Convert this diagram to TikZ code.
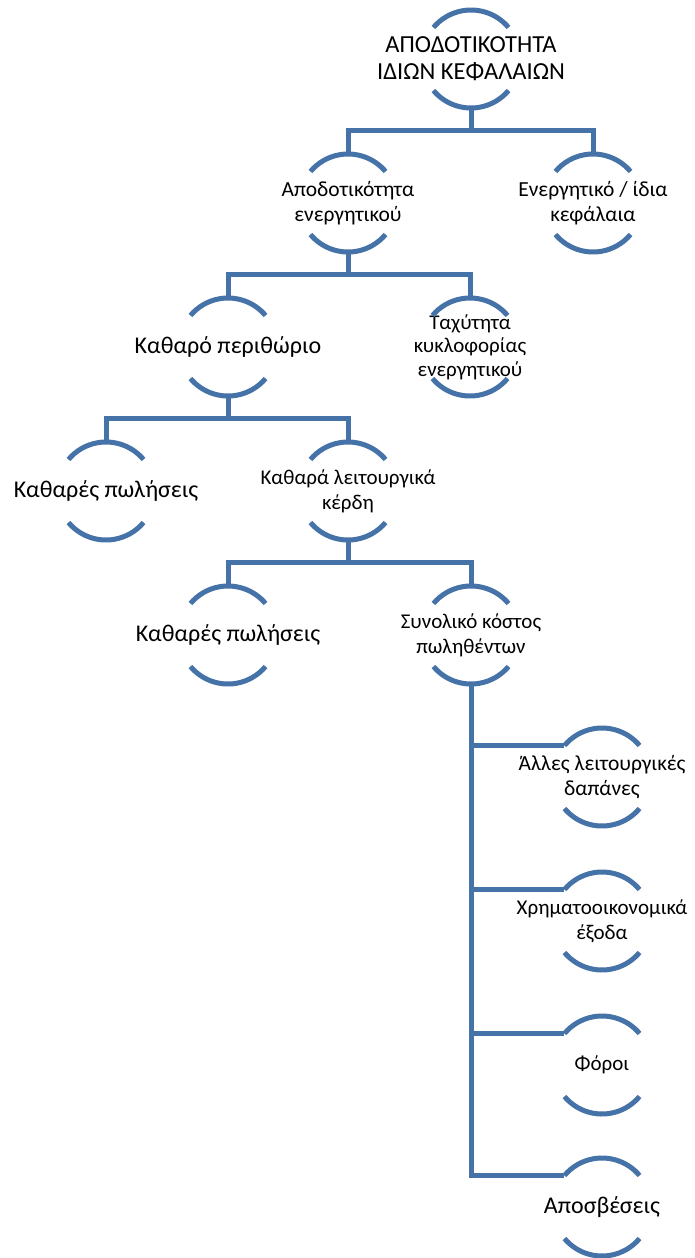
\documentclass[tikz,border=0pt]{standalone}
\usepackage{fontspec}
\setmainfont{Carlito}
\usepackage{xcolor}
\usepackage{tikz}
\definecolor{kpiblue}{RGB}{69,114,167}

\begin{document}
\begin{tikzpicture}[
    x=1pt, y=1pt,
    txt/.style={align=center, inner sep=0pt, font=\fontsize{21}{25}\selectfont},
    big/.style={txt, font=\fontsize{24}{28}\selectfont},
    small/.style={txt, font=\fontsize{21}{23.5}\selectfont},
    rim/.style={line width=5pt, draw=kpiblue},
    link/.style={line width=5pt, draw=kpiblue}
]
\useasboundingbox (0,0) rectangle (694,-1258);

\node[txt, font=\fontsize{24.5}{27}\selectfont] (roe) at (471,-59) {ΑΠΟΔΟΤΙΚΟΤΗΤΑ\\ΙΔΙΩΝ ΚΕΦΑΛΑΙΩΝ};
\node[txt, font=\fontsize{21.5}{25}\selectfont] (roa) at (348,-203) {Αποδοτικότητα\\ενεργητικού};
\node[txt, font=\fontsize{21.5}{25}\selectfont] (lev) at (593,-203) {Ενεργητικό / ίδια\\κεφάλαια};
\node[big] (margin) at (228,-347) {Καθαρό περιθώριο};
\node[small] (turn) at (470,-347) {Ταχύτητα\\κυκλοφορίας\\ενεργητικού};
\node[big] (salesA) at (106,-491) {Καθαρές πωλήσεις};
\node[txt] (ebit) at (348,-491) {Καθαρά λειτουργικά\\κέρδη};
\node[big] (salesB) at (228,-635) {Καθαρές πωλήσεις};
\node[txt] (cogs) at (471,-635) {Συνολικό κόστος\\πωληθέντων};
\node[txt, font=\fontsize{21.5}{25}\selectfont] (opex) at (602,-777) {Άλλες λειτουργικές\\δαπάνες};
\node[txt] (finx) at (602,-921) {Χρηματοοικονομικά\\έξοδα};
\node[txt] (tax) at (602,-1065) {Φόροι};
\node[big] (depr) at (602,-1207) {Αποσβέσεις};

% arcs above and below each text
\foreach \n in {roe,roa,lev,margin,turn,salesA,ebit,salesB,cogs,opex,finx,tax,depr}
    \draw[rim] ([shift={(40:49pt)}]\n.center) arc[start angle=40, end angle=140, radius=49pt]
               ([shift={(220:49pt)}]\n.center) arc[start angle=220, end angle=320, radius=49pt];

% tree connectors
\draw[link] ([yshift=-49pt]roe.center) -- ++(0,-22) -| ([yshift=49pt]roa.center);
\draw[link] ([yshift=-49pt]roe.center) -- ++(0,-22) -| ([yshift=49pt]lev.center);
\draw[link] ([yshift=-49pt]roa.center) -- ++(0,-22) -| ([yshift=49pt]margin.center);
\draw[link] ([yshift=-49pt]roa.center) -- ++(0,-22) -| ([yshift=49pt]turn.center);
\draw[link] ([yshift=-49pt]margin.center) -- ++(0,-22) -| ([yshift=49pt]salesA.center);
\draw[link] ([yshift=-49pt]margin.center) -- ++(0,-22) -| ([yshift=49pt]ebit.center);
\draw[link] ([yshift=-49pt]ebit.center) -- ++(0,-22) -| ([yshift=49pt]salesB.center);
\draw[link] ([yshift=-49pt]ebit.center) -- ++(0,-22) -| ([yshift=49pt]cogs.center);

% cost items hang off the side
\foreach \n in {opex,finx,tax,depr}
    \draw[link] ([yshift=-49pt]cogs.center) |- ([shift={(140:49pt)}]\n.center);

\end{tikzpicture}
\end{document}
